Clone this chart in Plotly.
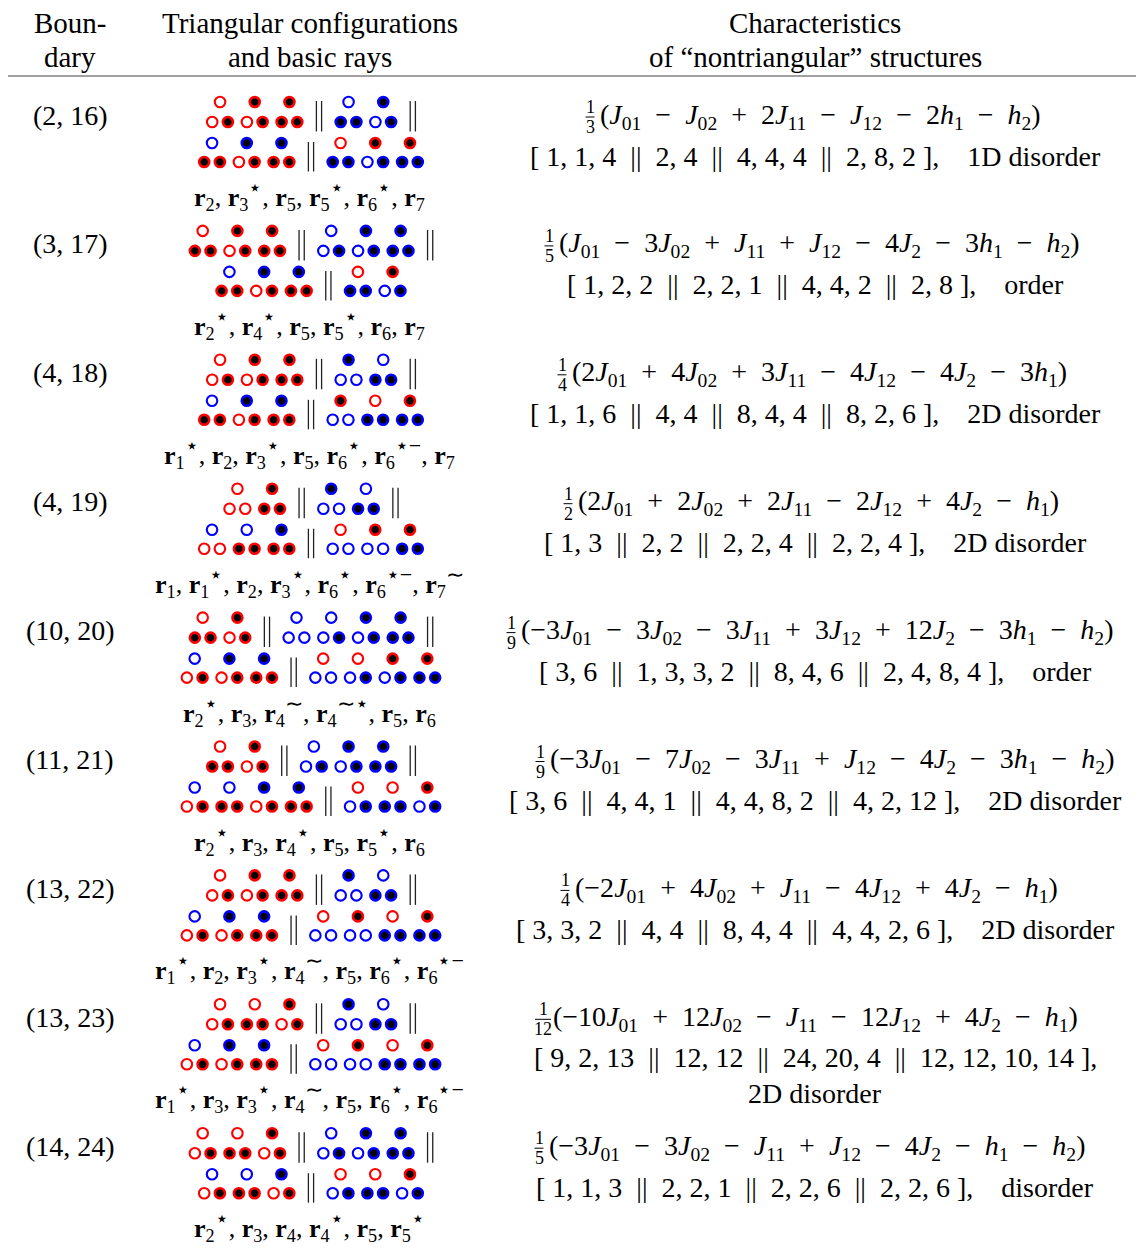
import plotly.graph_objects as go

# ---- table content -------------------------------------------------------
boundaries = ["(2, 16)", "(3, 17)", "(4, 18)", "(4, 19)", "(10, 20)",
              "(11, 21)", "(13, 22)", "(13, 23)", "(14, 24)"]

# triangles: top, bottom-left, bottom-right (1 = filled, 0 = open)
# groups per row: [A, B] on the first line, [C, D] on the second line
configs = [
    [["001", "101", "111"], ["011", "101"], ["011", "101", "111"], ["011", "101", "111"]],
    [["011", "101", "111"], ["001", "101", "111"], ["011", "101", "111"], ["011", "101"]],
    [["001", "101", "111"], ["100", "011"], ["011", "101", "111"], ["100", "011", "111"]],
    [["000", "111"], ["100", "011"], ["000", "011", "111"], ["000", "100", "111"]],
    [["011", "101"], ["000", "001", "101", "111"], ["001", "101", "111"], ["000", "001", "101", "111"]],
    [["011", "101"], ["001", "101", "111"], ["001", "011", "101", "111"], ["001", "011", "101"]],
    [["001", "101", "111"], ["100", "011"], ["001", "101", "111"], ["000", "100", "011", "111"]],
    [["001", "011", "101"], ["100", "011"], ["001", "101", "111"], ["000", "100", "011", "111"]],
    [["001", "011", "101"], ["001", "101", "111"], ["001", "011", "101"], ["001", "011", "101"]],
]

rays = [
    [("2", ""), ("3", "⋆"), ("5", ""), ("5", "⋆"), ("6", "⋆"), ("7", "")],
    [("2", "⋆"), ("4", "⋆"), ("5", ""), ("5", "⋆"), ("6", ""), ("7", "")],
    [("1", "⋆"), ("2", ""), ("3", "⋆"), ("5", ""), ("6", "⋆"), ("6", "⋆−"), ("7", "")],
    [("1", ""), ("1", "⋆"), ("2", ""), ("3", "⋆"), ("6", "⋆"), ("6", "⋆−"), ("7", "∼")],
    [("2", "⋆"), ("3", ""), ("4", "∼"), ("4", "∼⋆"), ("5", ""), ("6", "")],
    [("2", "⋆"), ("3", ""), ("4", "⋆"), ("5", ""), ("5", "⋆"), ("6", "")],
    [("1", "⋆"), ("2", ""), ("3", "⋆"), ("4", "∼"), ("5", ""), ("6", "⋆"), ("6", "⋆−")],
    [("1", "⋆"), ("3", ""), ("3", "⋆"), ("4", "∼"), ("5", ""), ("6", "⋆"), ("6", "⋆−")],
    [("2", "⋆"), ("3", ""), ("4", ""), ("4", "⋆"), ("5", ""), ("5", "⋆")],
]

terms = [("J", "01"), ("J", "02"), ("J", "11"), ("J", "12"), ("J", "2"), ("h", "1"), ("h", "2")]
denoms = [3, 5, 4, 2, 9, 9, 4, 12, 5]
coefs = [
    [1, -1, 2, -1, 0, -2, -1],
    [1, -3, 1, 1, -4, -3, -1],
    [2, 4, 3, -4, -4, -3, 0],
    [2, 2, 2, -2, 4, -1, 0],
    [-3, -3, -3, 3, 12, -3, -1],
    [-3, -7, -3, 1, -4, -3, -1],
    [-2, 4, 1, -4, 4, -1, 0],
    [-10, 12, -1, -12, 4, -1, 0],
    [-3, -3, -1, 1, -4, -1, -1],
]
counts = [
    [[1, 1, 4], [2, 4], [4, 4, 4], [2, 8, 2]],
    [[1, 2, 2], [2, 2, 1], [4, 4, 2], [2, 8]],
    [[1, 1, 6], [4, 4], [8, 4, 4], [8, 2, 6]],
    [[1, 3], [2, 2], [2, 2, 4], [2, 2, 4]],
    [[3, 6], [1, 3, 3, 2], [8, 4, 6], [2, 4, 8, 4]],
    [[3, 6], [4, 4, 1], [4, 4, 8, 2], [4, 2, 12]],
    [[3, 3, 2], [4, 4], [8, 4, 4], [4, 4, 2, 6]],
    [[9, 2, 13], [12, 12], [24, 20, 4], [12, 12, 10, 14]],
    [[1, 1, 3], [2, 2, 1], [2, 2, 6], [2, 2, 6]],
]
phases = ["1D disorder", "order", "2D disorder", "2D disorder", "order",
          "2D disorder", "2D disorder", "2D disorder", "disorder"]

# ---- layout constants ----------------------------------------------------
W, H = 1144, 1256
OFF = 8  # page body margin
FONT = "Liberation Serif"
RED, BLUE = "#ff0000", "#0000ff"
GROUP_COLORS = [(RED, RED), (BLUE, BLUE), (BLUE, RED), (RED, BLUE)]  # (top, bottom)
ROW_Y0, ROW_DY = 115, 128.9
COL_B, COL_T, COL_C = 70, 311, 815
PITCH, PAIR, GAP, R = 34.7, 15.7, 21.7, 6
FRAC_X = [590, 549, 562, 568, 511, 540, 565, 543, 539]
EN = "\u2002"

fill = {"x": [], "y": [], "c": []}
hollow = {"x": [], "y": [], "c": []}
sep_x, sep_y = [], []
bar_x, bar_y = [], []
ann = []


def text(x, y, s, size=28, anchor="center"):
    ann.append(dict(x=x, y=y, text=s, showarrow=False, xanchor=anchor, yanchor="middle",
                    font=dict(family=FONT, size=size, color="black")))


def place_line(groups, colors, trailing, y_top, y_bot):
    pts, seps = [], []
    x, last = 0.0, 0.0
    for gi, tris in enumerate(groups):
        ct, cb = colors[gi]
        if gi > 0:
            seps.append(last + GAP)
            x = last + 2 * GAP
        for code in tris:
            pts.append((x + PAIR / 2, y_top, code[0], ct))
            pts.append((x, y_bot, code[1], cb))
            pts.append((x + PAIR, y_bot, code[2], cb))
            last = x + PAIR
            x += PITCH
    if trailing:
        seps.append(last + GAP)
    right = seps[-1] + 3 if trailing else last + R
    shift = COL_T - (right - R) / 2
    for px, py, f, c in pts:
        d = fill if f == "1" else hollow
        d["x"].append(px + shift)
        d["y"].append(py)
        d["c"].append(c)
    for s in seps:
        for dx in (-2.6, 2.6):
            sep_x.extend([s + shift + dx, s + shift + dx, None])
            sep_y.extend([y_top - 1, y_bot + 9.5, None])


def expr(cs):
    out = "("
    first = True
    for c, (sym, sub) in zip(cs, terms):
        if c == 0:
            continue
        mag = "" if abs(c) == 1 else str(abs(c))
        if first:
            out += ("−" if c < 0 else "")
        else:
            out += EN + ("−" if c < 0 else "+") + EN
        out += mag + f"<i>{sym}</i><sub>{sub}</sub>"
        first = False
    return out + ")"


def ray(sub, sup):
    s = f"<b>r</b><sub>{sub}</sub>"
    if sup:
        s += f'<sup><span style="font-size:22px">{sup}</span></sup>'
    return s


# header
text(COL_B, 23, "Boun-", size=29)
text(COL_B, 57, "dary", size=29)
text(310, 23, "Triangular configurations", size=29)
text(310, 57, "and basic rays", size=29)
text(COL_C, 23, "Characteristics", size=29)
text(COL_C, 57, "of “nontriangular” structures", size=29)

for i in range(len(boundaries)):
    y0 = ROW_Y0 + ROW_DY * i
    text(COL_B, y0, boundaries[i], size=28)
    g = configs[i]
    place_line(g[:2], GROUP_COLORS[:2], True, y0 - 13, y0 + 7)
    place_line(g[2:], GROUP_COLORS[2:], False, y0 + 28, y0 + 47)
    text(309, y0 + 80, ", ".join(ray(s, p) for s, p in rays[i]), size=26)

    fx = FRAC_X[i]
    text(fx, y0 - 8, "1", size=18)
    text(fx, y0 + 12, str(denoms[i]), size=18)
    hw = 4.5 if denoms[i] < 10 else 8
    bar_x.extend([fx - hw, fx + hw, None])
    bar_y.extend([y0 + 2, y0 + 2, None])
    text(fx + 8, y0 + 1, expr(coefs[i]), size=28, anchor="left")

    cnt = (EN + "||" + EN).join(", ".join(str(v) for v in grp) for grp in counts[i])
    line = f"[ {cnt} ],"
    n_digits = sum(len(str(v)) for grp in counts[i] for v in grp)
    if n_digits > 16:
        text(COL_C, y0 + 40, line)
        text(COL_C, y0 + 76, phases[i])
    else:
        text(COL_C, y0 + 41, line + EN + EN + phases[i])

fig = go.Figure()
fig.add_trace(go.Scatter(x=sep_x, y=sep_y, mode="lines", line=dict(color="#222", width=1.3),
                         hoverinfo="skip"))
fig.add_trace(go.Scatter(x=bar_x, y=bar_y, mode="lines", line=dict(color="black", width=1),
                         hoverinfo="skip"))
fig.add_trace(go.Scatter(x=hollow["x"], y=hollow["y"], mode="markers",
                         marker=dict(size=10.5, color="white", line=dict(color=hollow["c"], width=2.1))))
fig.add_trace(go.Scatter(x=fill["x"], y=fill["y"], mode="markers",
                         marker=dict(size=10, color="black", line=dict(color=fill["c"], width=2.6))))

fig.add_shape(type="line", x0=8, x1=W + OFF, y0=76, y1=76, line=dict(color="#444", width=1.2))

fig.update_layout(width=W, height=H, margin=dict(l=0, r=0, t=0, b=0),
                  plot_bgcolor="white", paper_bgcolor="white", showlegend=False,
                  annotations=ann,
                  xaxis=dict(range=[OFF, W + OFF], visible=False, fixedrange=True),
                  yaxis=dict(range=[H + OFF, OFF], visible=False, fixedrange=True))
fig.write_html("out.html")
